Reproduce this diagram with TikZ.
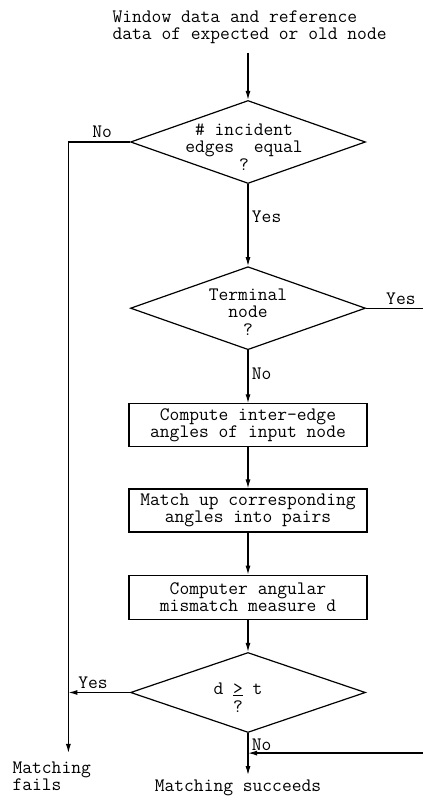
\documentclass[tikz,border=0pt]{standalone}
\usetikzlibrary{shapes.geometric,arrows.meta,positioning}

\begin{document}
\begin{tikzpicture}[
    x=1pt, y=1pt,
    font=\fontsize{19}{17.5}\selectfont\ttfamily,
    line width=1.2pt,
    decision/.style={diamond, draw, minimum width=235pt, minimum height=83pt, inner sep=0pt},
    block/.style={rectangle, draw, minimum width=238pt, minimum height=43pt, inner sep=0pt, align=center},
    inside/.style={align=center, inner sep=0pt},
    arrow/.style={-{Latex[length=9pt,width=5pt]}}
]
\useasboundingbox (0,0) rectangle (423,798);

% nodes
\node[decision] (edges) at (248,656) {};
\node[inside, xshift=-4pt, yshift=-5pt] (edgestext) at (edges) {\#~incident\\edges~~equal\\?};
\node[decision, below=82pt of edges] (terminal) {};
\node[inside, yshift=-4pt] (terminaltext) at (terminal) {Terminal\\node\\?};
\node[block, below=53pt of terminal] (angles) {Compute inter-edge\\angles of input node};
\node[block, below=41pt of angles] (pairs) {Match up corresponding\\angles into pairs};
\node[block, below=42pt of pairs, minimum height=44pt] (measure) {Computer angular\\mismatch measure d};
\node[decision, below=32pt of measure, minimum height=80pt] (test) {};
\node[inside, xshift=-10pt, yshift=-5pt, font=\fontsize{19}{18.5}\selectfont\ttfamily] (testtext) at (test) {d \underline{>} t\\?};

% texts
\node[anchor=north west, align=left, inner sep=0pt] (src) at (112,788) {Window data and reference\\data of expected or old node};
\node[anchor=north west, align=left, inner sep=0pt] (fails) at (12,37) {Matching\\fails};

% free ends
\coordinate[above=47pt of edges.north] (in);
\coordinate[left=61.5pt of edges.west] (nobend);
\coordinate[right=58pt of terminal.east] (termout);
\coordinate (yesjoin) at (test.west -| nobend);
\coordinate (failend) at (nobend |- 0,45);
\coordinate[below=20pt of test.south] (join);
\coordinate[below=42pt of test.south] (succend);
\coordinate (loopin) at (join -| termout);
\node[below=4pt of succend, xshift=-10pt, inner sep=0pt] (succeeds) {Matching succeeds};

% arrows
\draw[arrow] (in) -- (edges.north);
\draw[arrow] (edges.west) -- node[above, pos=0.45] {No} (nobend) -- (failend);
\draw[arrow] (edges.south) -- node[right, pos=0.4] {Yes} (terminal.north);
\draw (terminal.east) -- node[above, pos=0.6] {Yes} (termout);
\draw[arrow] (terminal.south) -- node[right, pos=0.45] {No} (angles.north);
\draw[arrow] (angles) -- (pairs);
\draw[arrow] (pairs) -- (measure);
\draw[arrow] (measure) -- (test.north);
\draw[arrow] (test.west) -- node[above, pos=0.6] {Yes} (yesjoin);
\draw[arrow] (test.south) -- node[right, pos=0.27] {No} (succend);
\draw[arrow] (loopin) -- (join);
\end{tikzpicture}
\end{document}
